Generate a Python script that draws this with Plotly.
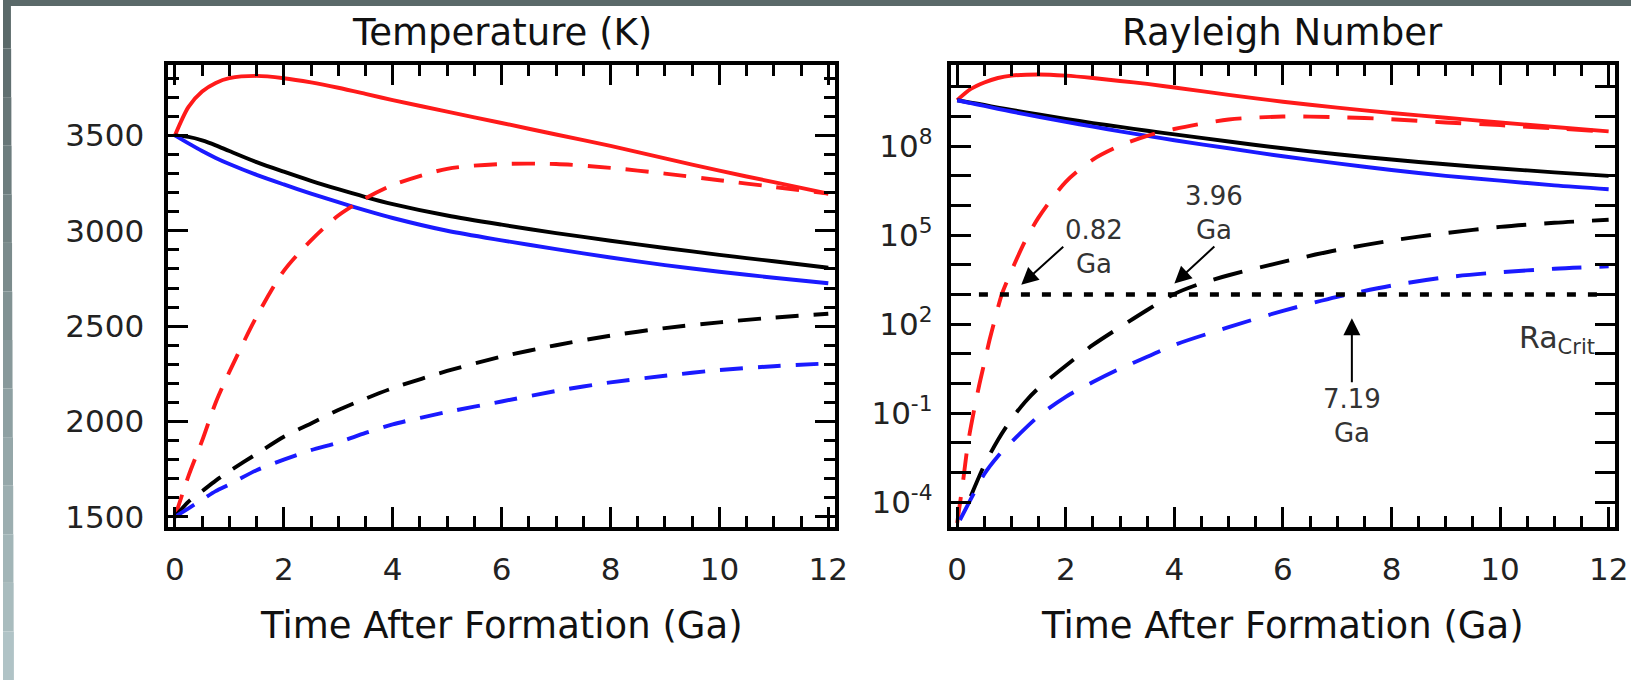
import plotly.graph_objects as go

# ---------------- data ----------------
# Temperature panel (K)
t_T = [0, 0.25, 0.5, 0.75, 1, 1.5, 2, 2.5, 3, 3.5, 4, 5, 6, 7, 8, 9, 10, 11, 12]
T_red_solid = [3500, 3650, 3730, 3775, 3800, 3812, 3800, 3778, 3750, 3718, 3685, 3625, 3565, 3505, 3445, 3380, 3315, 3255, 3195]
T_red_dash = [1500, 1715, 1900, 2100, 2260, 2550, 2790, 2950, 3080, 3170, 3240, 3325, 3350, 3350, 3330, 3300, 3265, 3230, 3195]
T_black_solid = [3500, 3492, 3474, 3448, 3418, 3360, 3310, 3262, 3218, 3177, 3140, 3080, 3032, 2988, 2948, 2910, 2874, 2840, 2806]
T_blue_solid = [3500, 3458, 3418, 3382, 3350, 3293, 3243, 3195, 3150, 3107, 3067, 3000, 2950, 2904, 2860, 2820, 2785, 2754, 2725]
T_black_dash = [1500, 1580, 1635, 1690, 1740, 1830, 1920, 1990, 2060, 2120, 2175, 2265, 2340, 2400, 2450, 2490, 2520, 2545, 2565]
T_blue_dash = [1500, 1545, 1590, 1635, 1670, 1745, 1800, 1850, 1890, 1940, 1985, 2050, 2105, 2160, 2205, 2240, 2270, 2290, 2305]

# Rayleigh panel (log10 Ra)
t_Ra_solid = [0, 0.25, 0.5, 0.75, 1, 1.5, 2, 2.5, 3, 3.5, 4, 5, 6, 7, 8, 9, 10, 11, 12]
logRa_red_solid = [9.55, 9.93, 10.15, 10.3, 10.38, 10.42, 10.38, 10.3, 10.2, 10.1, 9.98, 9.73, 9.5, 9.3, 9.12, 8.96, 8.8, 8.65, 8.5]
logRa_black_solid = [9.55, 9.47, 9.39, 9.3, 9.22, 9.07, 8.92, 8.78, 8.65, 8.52, 8.4, 8.16, 7.93, 7.73, 7.55, 7.39, 7.25, 7.12, 7.0]
logRa_blue_solid = [9.55, 9.45, 9.36, 9.26, 9.17, 8.99, 8.82, 8.66, 8.5, 8.35, 8.2, 7.93, 7.66, 7.42, 7.2, 7.0, 6.84, 6.68, 6.55]

t_red_dash = [0, 0.1, 0.2, 0.3, 0.4, 0.5, 0.6, 0.7, 0.82, 1.0, 1.25, 1.5, 2.0, 2.5, 3.0, 3.5, 4.0, 5, 6, 7, 8, 9, 10, 11, 12]
logRa_red_dash = [-4.7, -3.4, -2.0, -1.0, -0.1, 0.7, 1.5, 2.2, 3.0, 3.8, 4.8, 5.6, 6.8, 7.55, 8.02, 8.35, 8.58, 8.9, 9.0, 8.98, 8.91, 8.8, 8.71, 8.6, 8.49]

t_black_dash = [0.25, 0.5, 0.75, 1, 1.25, 1.5, 2, 2.5, 3, 3.5, 4, 4.5, 5, 6, 7, 8, 9, 10, 11, 12]
logRa_black_dash = [-3.8, -2.75, -1.9, -1.2, -0.62, -0.15, 0.6, 1.3, 1.9, 2.48, 3.02, 3.38, 3.65, 4.1, 4.5, 4.82, 5.07, 5.28, 5.42, 5.52]

t_blue_dash = [0.05, 0.25, 0.5, 0.75, 1, 1.5, 2, 2.5, 3, 3.5, 4, 5, 6, 7, 8, 9, 10, 11, 12]
logRa_blue_dash = [-4.6, -3.9, -3.05, -2.45, -1.97, -1.1, -0.45, 0.05, 0.5, 0.9, 1.3, 1.9, 2.45, 2.92, 3.3, 3.58, 3.75, 3.87, 3.95]

Ra_crit = 1e3
Ra_crit_t = [0.4, 12]
crossing_labels = ["0.82<br>Ga", "3.96<br>Ga", "7.19<br>Ga"]

x_ticks = [0, 2, 4, 6, 8, 10, 12]
T_ticks = [1500, 2000, 2500, 3000, 3500]
Ra_label_exps = [-4, -1, 2, 5, 8]
Ra_minor_exps = [-3, -2, 0, 1, 3, 4, 6, 7, 9, 10]

# ---------------- figure ----------------
RED, BLUE, BLACK = "#ff1a1a", "#1a1aff", "#000000"
FONT = "DejaVu Sans"
W, H = 1644, 688


def px2fx(px):
    return px / W


def px2fy(py):
    return 1 - py / H


fig = go.Figure()


def add(x, y, color, dash, xa, ya, dashpat):
    fig.add_trace(go.Scatter(
        x=x, y=y, mode="lines", xaxis=xa, yaxis=ya,
        line=dict(color=color, width=3.9, shape="spline", smoothing=0.8,
                  dash=(dashpat if dash else "solid")),
        showlegend=False, hoverinfo="skip"))


dl = "23px,15px"
add(t_T, T_red_solid, RED, False, "x", "y", dl)
add(t_T, T_black_solid, BLACK, False, "x", "y", dl)
add(t_T, T_blue_solid, BLUE, False, "x", "y", dl)
add(t_T, T_red_dash, RED, True, "x", "y", dl)
add(t_T, T_black_dash, BLACK, True, "x", "y", dl)
add(t_T, T_blue_dash, BLUE, True, "x", "y", dl)

dr = "30px,18px"
add(t_Ra_solid, [10 ** v for v in logRa_red_solid], RED, False, "x2", "y2", dr)
add(t_Ra_solid, [10 ** v for v in logRa_black_solid], BLACK, False, "x2", "y2", dr)
add(t_Ra_solid, [10 ** v for v in logRa_blue_solid], BLUE, False, "x2", "y2", dr)
add(t_red_dash, [10 ** v for v in logRa_red_dash], RED, True, "x2", "y2", "26px,18px")
add(t_black_dash, [10 ** v for v in logRa_black_dash], BLACK, True, "x2", "y2", dr)
add(t_blue_dash, [10 ** v for v in logRa_blue_dash], BLUE, True, "x2", "y2", dr)

# critical Rayleigh line
fig.add_trace(go.Scatter(
    x=Ra_crit_t, y=[Ra_crit, Ra_crit], mode="lines", xaxis="x2", yaxis="y2",
    line=dict(color=BLACK, width=4.5, dash="9px,12px"),
    showlegend=False, hoverinfo="skip"))

tickfont = dict(family=FONT, size=31, color="#222")
common_x = dict(
    range=[-0.12, 12.12], tickvals=x_ticks, ticktext=[str(v) for v in x_ticks],
    ticks="inside", ticklen=20, tickwidth=3, tickcolor=BLACK,
    showline=True, linewidth=4, linecolor=BLACK, mirror="ticks",
    showgrid=False, zeroline=False, tickfont=tickfont, ticklabelstandoff=12,
    minor=dict(dtick=0.5, tick0=0, ticks="inside", ticklen=11, tickwidth=3,
               tickcolor=BLACK, showgrid=False),
)

x1d = [px2fx(167), px2fx(840)]
x2d = [px2fx(957), px2fx(1628)]
yd = [px2fy(533), px2fy(66)]

fig.update_layout(
    width=W, height=H, margin=dict(l=0, r=0, t=0, b=0),
    paper_bgcolor="white", plot_bgcolor="white",
    xaxis=dict(domain=x1d, anchor="y", **common_x),
    xaxis2=dict(domain=x2d, anchor="y2", **common_x),
    yaxis=dict(domain=yd, anchor="x", range=[1448, 3868],
               tickvals=T_ticks, ticktext=[str(v) for v in T_ticks],
               ticks="inside", ticklen=20, tickwidth=3, tickcolor=BLACK,
               showline=True, linewidth=4, linecolor=BLACK, mirror="ticks",
               showgrid=False, zeroline=False, tickfont=tickfont, ticklabelstandoff=14,
               minor=dict(dtick=100, tick0=1500, ticks="inside", ticklen=11,
                          tickwidth=3, tickcolor=BLACK, showgrid=False)),
    yaxis2=dict(domain=yd, anchor="x2", type="log", range=[-4.83, 10.73],
                tickmode="array", tickvals=[10 ** k for k in Ra_label_exps],
                ticktext=["10<sup>%d</sup>" % k for k in Ra_label_exps],
                ticks="inside", ticklen=20, tickwidth=3, tickcolor=BLACK,
                showline=True, linewidth=4, linecolor=BLACK, mirror="ticks",
                showgrid=False, zeroline=False, tickfont=tickfont, ticklabelstandoff=8,
                minor=dict(tickmode="array", tickvals=[10 ** k for k in Ra_minor_exps],
                           ticks="inside", ticklen=20, tickwidth=3, tickcolor=BLACK,
                           showgrid=False)),
)

titlefont = dict(family=FONT, size=37, color="#111")
ann = []
ann.append(dict(text="Temperature (K)", xref="paper", yref="paper",
                x=(x1d[0] + x1d[1]) / 2, y=px2fy(33), showarrow=False, font=titlefont,
                xanchor="center", yanchor="middle"))
ann.append(dict(text="Rayleigh Number", xref="paper", yref="paper",
                x=(x2d[0] + x2d[1]) / 2, y=px2fy(33), showarrow=False, font=titlefont,
                xanchor="center", yanchor="middle"))
for d in (x1d, x2d):
    ann.append(dict(text="Time After Formation (Ga)", xref="paper", yref="paper",
                    x=(d[0] + d[1]) / 2, y=px2fy(633), showarrow=False, font=titlefont,
                    xanchor="center", yanchor="middle"))

annfont = dict(family=FONT, size=26, color="#333")
# arrow tip near each Ra_crit crossing (data units), text offset in pixels
arrow_tip_x = [1.18, 4.0, 7.27]
arrow_tip_logy = [3.33, 3.37, 2.2]
arrow_ax = [42, 40, 0]
arrow_ay = [-38, -37, 64]
arrow_xanchor = ["left", "center", "center"]
arrow_yanchor = ["middle", "bottom", "top"]
for i in range(3):
    ann.append(dict(text=crossing_labels[i], xref="x2", yref="y2",
                    x=arrow_tip_x[i], y=arrow_tip_logy[i],
                    ax=arrow_ax[i], ay=arrow_ay[i], showarrow=True, arrowhead=2,
                    arrowsize=1.7, arrowwidth=2, arrowcolor=BLACK,
                    xanchor=arrow_xanchor[i], yanchor=arrow_yanchor[i],
                    font=annfont, align="center"))
ann.append(dict(text="Ra<sub>Crit</sub>", xref="x2", yref="y2", x=11.05, y=1.5,
                showarrow=False, font=dict(family=FONT, size=30, color="#333"),
                xanchor="center", yanchor="middle"))
fig.update_layout(annotations=ann)

# dark frame strips at top and left of the picture
shapes = [dict(type="rect", xref="paper", yref="paper", x0=0, x1=1, y0=px2fy(6), y1=1,
               fillcolor="#5a6969", line=dict(width=0), layer="above")]
n = 14
c0 = (0x5a, 0x69, 0x69)
c1 = (0xb0, 0xc3, 0xc6)
for i in range(n):
    f = i / (n - 1)
    c = tuple(int(c0[k] + (c1[k] - c0[k]) * f) for k in range(3))
    shapes.append(dict(type="rect", xref="paper", yref="paper",
                       x0=0, x1=px2fx(8 + 3 * f), y0=1 - (i + 1) / n, y1=1 - i / n,
                       fillcolor="#%02x%02x%02x" % c, line=dict(width=0), layer="above"))
fig.update_layout(shapes=shapes)

fig.write_html("out.html")
